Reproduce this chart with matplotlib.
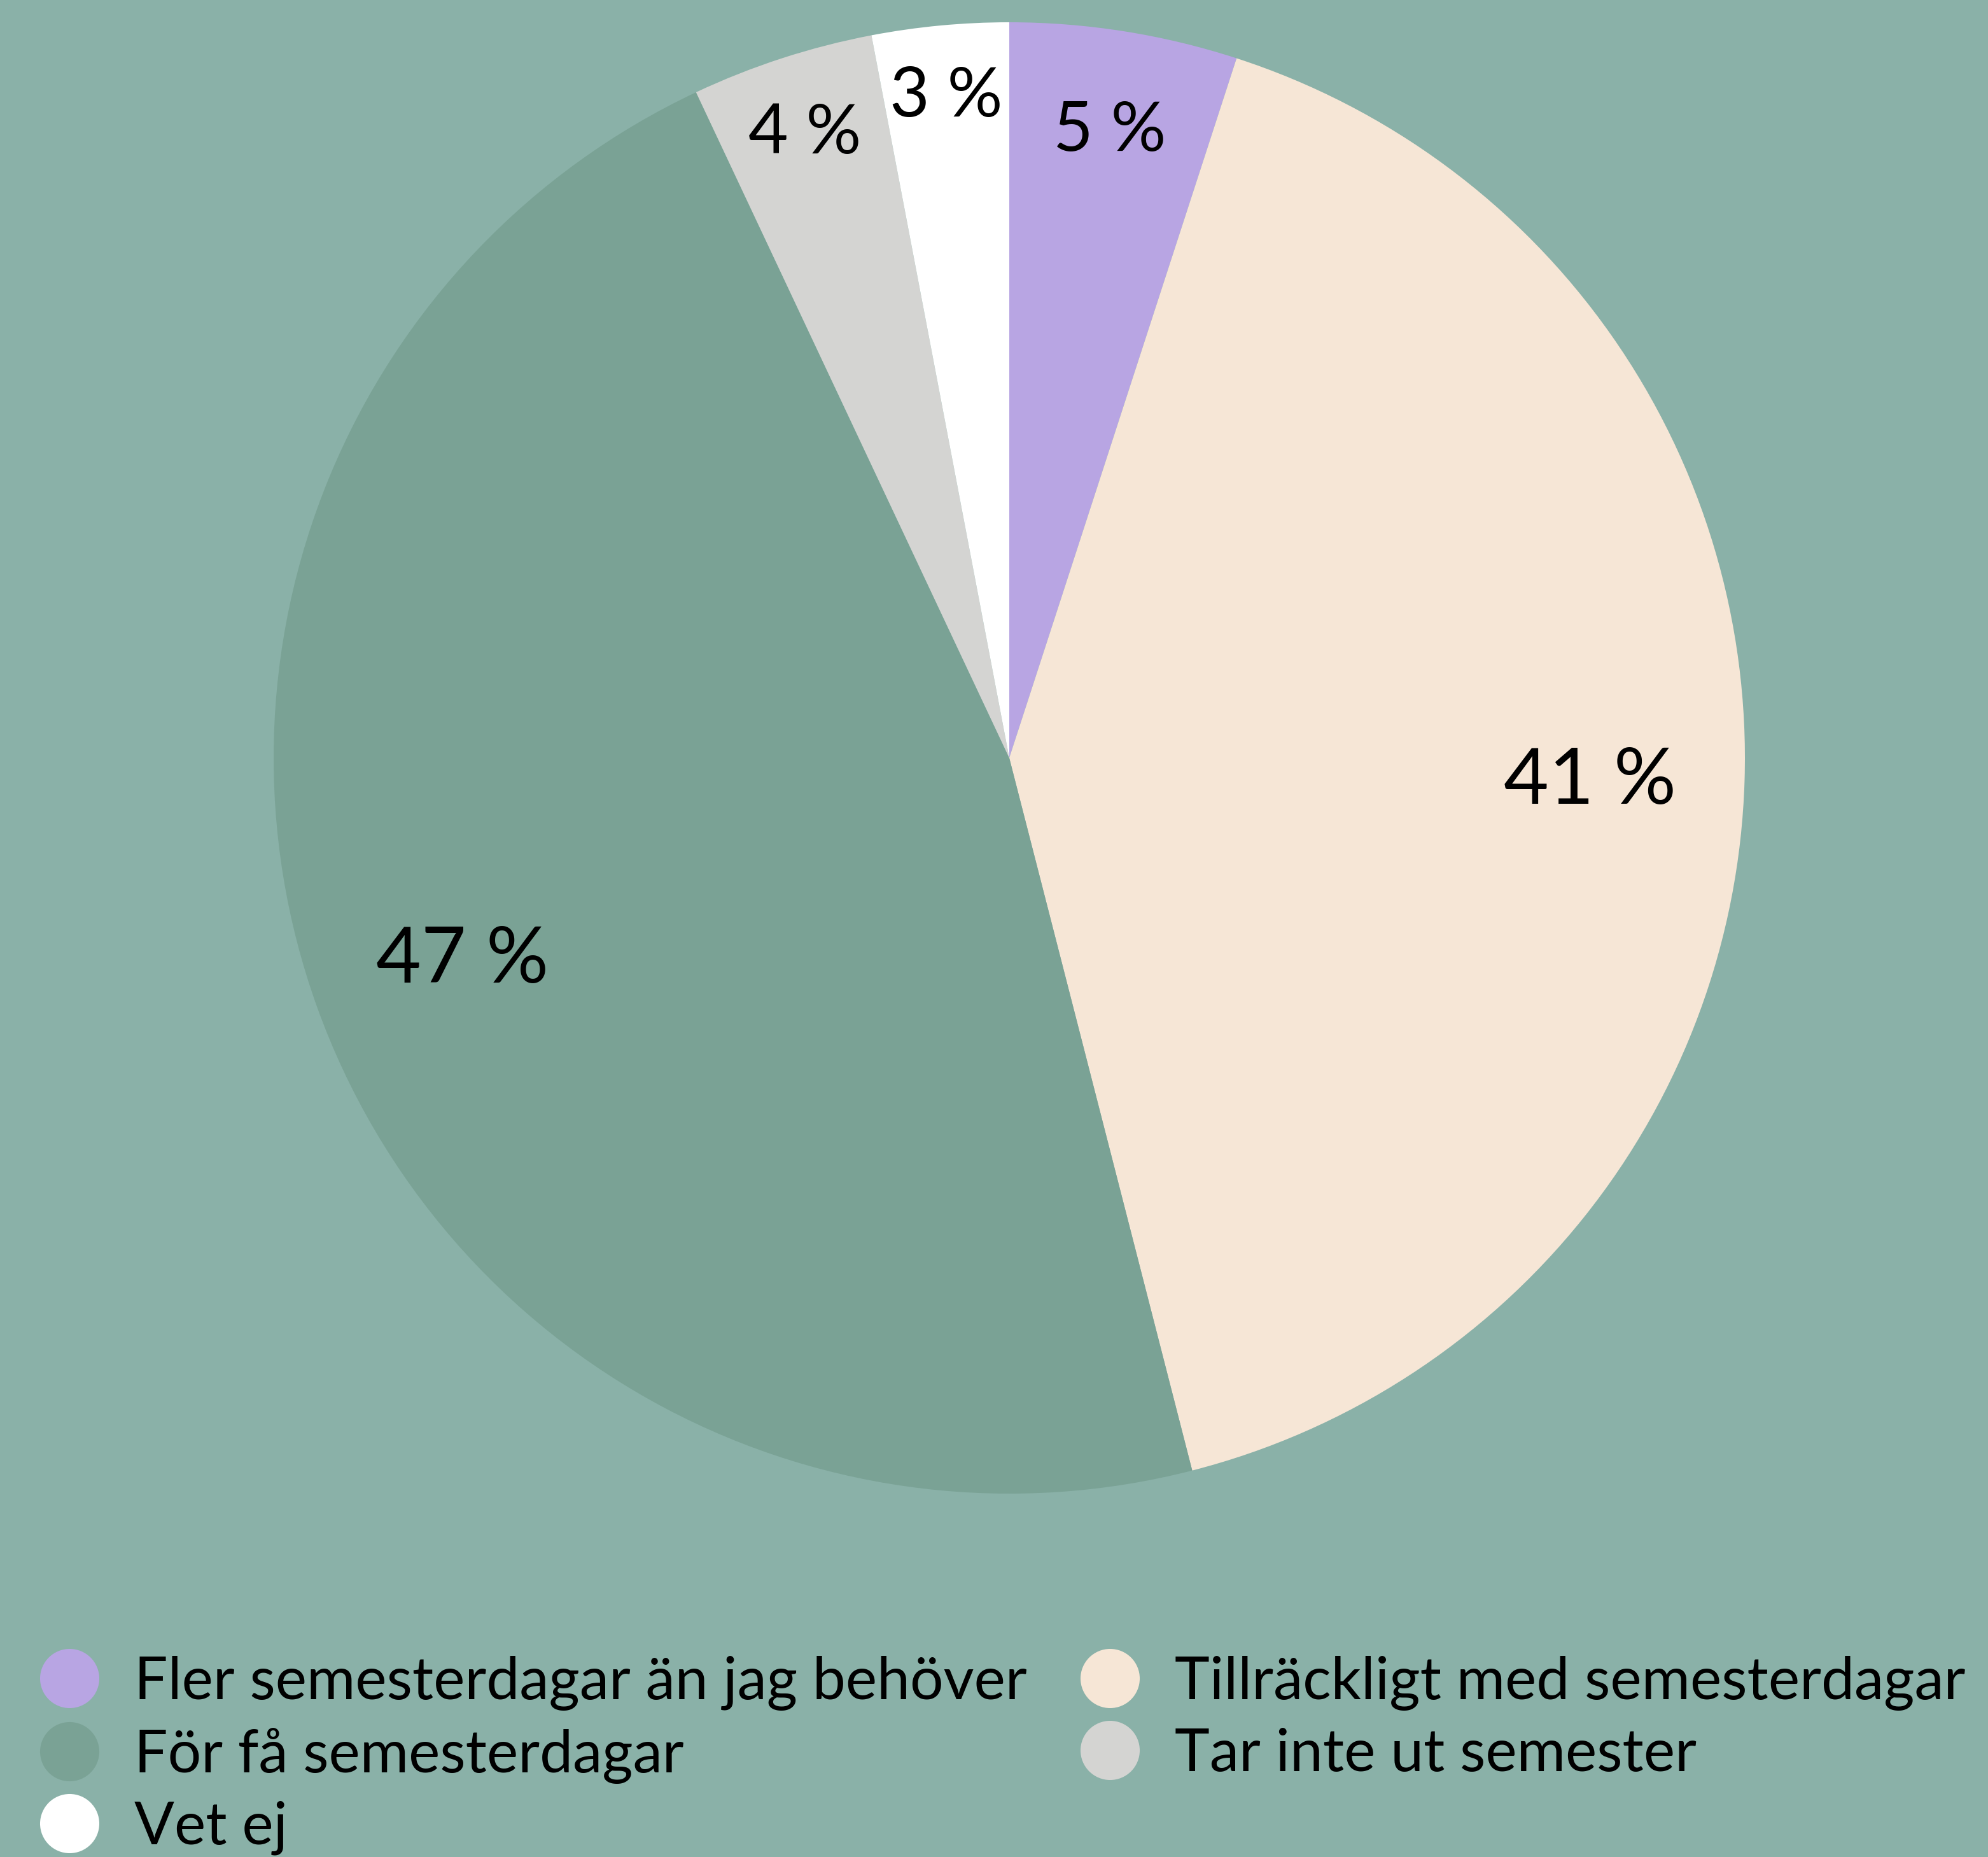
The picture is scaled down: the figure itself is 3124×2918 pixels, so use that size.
import numpy as np
import matplotlib
matplotlib.use("Agg")
import matplotlib.pyplot as plt
from matplotlib.lines import Line2D

plt.rcParams['font.family'] = ['Lato', 'DejaVu Sans']

categories = ["Fler semesterdagar än jag behöver", "Tillräckligt med semesterdagar",
              "För få semesterdagar", "Tar inte ut semester", "Vet ej"]
values = [5, 41, 47, 4, 3]
labels = ["5 %", "41 %", "47 %", "4 %", "3 %"]
colors = ["#B8A5E3", "#F6E6D6", "#7AA295", "#D4D4D2", "#FFFFFF"]
label_dist = [0.87, 0.79, 0.79, 0.90, 0.91]
label_size = [78, 88, 88, 78, 78]

BG = "#8AB1A8"
W, H = 3124, 2918
fig = plt.figure(figsize=(W / 100, H / 100), dpi=100, facecolor=BG)
ax = fig.add_axes([0, 0, 1, 1])
ax.set_facecolor(BG)

cx, cy, R = 1586, H - 1191, 1156
wedges, _ = ax.pie(values, colors=colors, startangle=90, counterclock=False,
                   center=(cx, cy), radius=R, frame=True,
                   wedgeprops=dict(linewidth=0))
ax.set_xlim(0, W)
ax.set_ylim(0, H)
ax.set_aspect('equal')
ax.axis('off')

for w, lab, d, fs in zip(wedges, labels, label_dist, label_size):
    ang = np.deg2rad((w.theta1 + w.theta2) / 2)
    x = cx + d * R * np.cos(ang)
    y = cy + d * R * np.sin(ang) - 9
    ax.text(x, y, lab, ha='center', va='center', fontsize=fs, color='black')

order = [0, 2, 4, 1, 3]
handles = [Line2D([], [], linestyle='none', marker='o', markersize=67,
                  markerfacecolor=colors[i], markeredgewidth=0) for i in order]
leg_labels = [categories[i] for i in order]
leg = fig.legend(handles, leg_labels, loc='upper left',
                 bbox_to_anchor=(62 / W, (H - 2602) / H), ncol=2,
                 frameon=False, fontsize=67, handlelength=1.0, handleheight=0.7,
                 handletextpad=0.6, columnspacing=0.9, labelspacing=0.29,
                 borderpad=0, borderaxespad=0)
for t in leg.get_texts():
    t.set_color('black')

fig.savefig("out.png", dpi=100, facecolor=BG)
